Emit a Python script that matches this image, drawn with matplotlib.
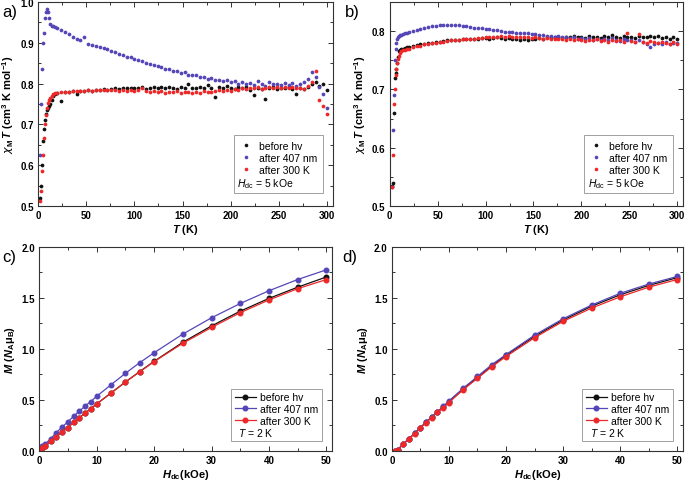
import matplotlib
matplotlib.use("Agg")
import matplotlib.pyplot as plt
from matplotlib.lines import Line2D
from matplotlib.ticker import MultipleLocator, FormatStrFormatter

plt.rcParams["font.family"] = ["Liberation Sans", "DejaVu Sans"]
plt.rcParams["mathtext.fontset"] = "custom"
plt.rcParams["mathtext.rm"] = "Liberation Sans"
plt.rcParams["mathtext.it"] = "Liberation Sans:italic"
plt.rcParams["mathtext.bf"] = "Liberation Sans:bold"
plt.rcParams["mathtext.bfit"] = "Liberation Sans:bold:italic"
plt.rcParams["mathtext.sf"] = "DejaVu Sans:italic"

LABELS = ["before hv", "after 407 nm", "after 300 K"]
COLORS = ["#111111", "#5546b8", "#ee2828"]

# temperature grid (K) used for the chi*T scans
T_K = [2, 3, 4, 5, 6, 7, 8, 9, 10, 11, 12, 14, 16, 18,
       20, 24, 28, 32, 36, 40, 44, 48, 52, 56, 60, 64, 68, 72, 76, 80,
       84, 88, 92, 96, 100, 104, 108, 112, 116, 120, 124, 128, 132, 136,
       140, 144, 148, 152, 156, 160, 164, 168, 172, 176, 180, 184, 188,
       192, 196, 200, 204, 208, 212, 216, 220, 224, 228, 232, 236, 240,
       244, 248, 252, 256, 260, 264, 268, 272, 276, 280, 284, 288, 292,
       296, 300]

# panel a
CHIT_A_BEFORE = [0.52, 0.55, 0.60, 0.66, 0.69, 0.71, 0.725, 0.735, 0.74, 0.745, 0.75, 0.76, 0.77, 0.775,
                 0.778, 0.757, 0.779, 0.780, 0.781, 0.775, 0.782, 0.783, 0.784, 0.783, 0.785, 0.784,
                 0.786, 0.785, 0.787, 0.788, 0.786, 0.789, 0.788, 0.790, 0.788, 0.790, 0.792, 0.787,
                 0.790, 0.791, 0.789, 0.791, 0.788, 0.792, 0.790, 0.787, 0.791, 0.789, 0.798, 0.790,
                 0.788, 0.792, 0.790, 0.797, 0.789, 0.768, 0.791, 0.788, 0.793, 0.789, 0.786, 0.791,
                 0.788, 0.792, 0.785, 0.773, 0.790, 0.787, 0.762, 0.789, 0.792, 0.786, 0.790, 0.788,
                 0.791, 0.787, 0.775, 0.790, 0.786, 0.792, 0.798, 0.805, 0.795, 0.800, 0.785]
CHIT_A_407 = [0.625, 0.75, 0.835, 0.90, 0.925, 0.96, 0.975, 0.983, 0.975, 0.96, 0.945, 0.942, 0.941, 0.938,
              0.935, 0.930, 0.926, 0.921, 0.915, 0.910, 0.906, 0.915, 0.896, 0.895, 0.892, 0.890,
              0.886, 0.884, 0.880, 0.878, 0.872, 0.870, 0.866, 0.865, 0.860, 0.858, 0.855, 0.850,
              0.848, 0.846, 0.843, 0.840, 0.836, 0.835, 0.832, 0.830, 0.826, 0.829, 0.822, 0.820,
              0.821, 0.815, 0.817, 0.812, 0.814, 0.808, 0.810, 0.806, 0.808, 0.804, 0.806, 0.800,
              0.804, 0.798, 0.802, 0.797, 0.806, 0.799, 0.795, 0.803, 0.798, 0.800, 0.796, 0.802,
              0.797, 0.801, 0.795, 0.799, 0.803, 0.812, 0.828, 0.815, 0.792, 0.775, 0.740]
CHIT_A_300 = [0.513, 0.538, 0.587, 0.626, 0.667, 0.70, 0.722, 0.74, 0.752, 0.76, 0.765, 0.770, 0.774, 0.776,
              0.778, 0.779, 0.780, 0.780, 0.781, 0.782, 0.782, 0.783, 0.784, 0.783, 0.784, 0.785,
              0.784, 0.785, 0.784, 0.785, 0.783, 0.784, 0.782, 0.784, 0.783, 0.785, 0.790, 0.781,
              0.780, 0.782, 0.779, 0.781, 0.778, 0.780, 0.779, 0.781, 0.778, 0.780, 0.779, 0.777,
              0.780, 0.778, 0.781, 0.779, 0.780, 0.782, 0.784, 0.781, 0.785, 0.783, 0.787, 0.785,
              0.789, 0.786, 0.790, 0.788, 0.791, 0.787, 0.790, 0.792, 0.789, 0.791, 0.788, 0.792,
              0.789, 0.791, 0.788, 0.790, 0.787, 0.793, 0.805, 0.830, 0.760, 0.745, 0.725]

# panel b
CHIT_B_BEFORE = [0.535, 0.54, 0.66, 0.72, 0.728, 0.735, 0.745, 0.755, 0.765, 0.768, 0.769, 0.770, 0.771, 0.772,
                 0.773, 0.774, 0.776, 0.777, 0.778, 0.779, 0.780, 0.781, 0.782, 0.783, 0.784, 0.784,
                 0.785, 0.785, 0.786, 0.786, 0.787, 0.787, 0.787, 0.788, 0.788, 0.787, 0.788, 0.789,
                 0.788, 0.787, 0.788, 0.786, 0.787, 0.785, 0.786, 0.785, 0.787, 0.786, 0.788, 0.787,
                 0.789, 0.788, 0.790, 0.789, 0.788, 0.790, 0.789, 0.791, 0.789, 0.790, 0.788, 0.791,
                 0.789, 0.790, 0.788, 0.791, 0.789, 0.793, 0.790, 0.788, 0.791, 0.789, 0.790, 0.788,
                 0.791, 0.789, 0.790, 0.792, 0.789, 0.791, 0.788, 0.790, 0.787, 0.789, 0.786]
CHIT_B_407 = [0.533, 0.63, 0.69, 0.75, 0.77, 0.78, 0.787, 0.790, 0.792, 0.793, 0.794, 0.795, 0.796, 0.797,
              0.798, 0.800, 0.802, 0.804, 0.805, 0.807, 0.808, 0.809, 0.810, 0.810, 0.811, 0.811,
              0.810, 0.810, 0.809, 0.808, 0.807, 0.806, 0.806, 0.805, 0.804, 0.803, 0.802, 0.801,
              0.800, 0.799, 0.799, 0.798, 0.797, 0.797, 0.796, 0.796, 0.795, 0.795, 0.794, 0.793,
              0.792, 0.791, 0.790, 0.791, 0.789, 0.790, 0.788, 0.789, 0.787, 0.788, 0.786, 0.788,
              0.785, 0.787, 0.785, 0.786, 0.784, 0.788, 0.785, 0.783, 0.786, 0.784, 0.785, 0.782,
              0.784, 0.781, 0.778, 0.772, 0.778, 0.780, 0.777, 0.781, 0.778, 0.780, 0.779]
CHIT_B_300 = [0.533, 0.587, 0.675, 0.70, 0.725, 0.735, 0.745, 0.752, 0.758, 0.762, 0.765, 0.767, 0.768, 0.769,
              0.770, 0.772, 0.774, 0.775, 0.777, 0.778, 0.779, 0.780, 0.781, 0.782, 0.783, 0.784,
              0.785, 0.785, 0.786, 0.786, 0.787, 0.787, 0.788, 0.788, 0.789, 0.789, 0.790, 0.790,
              0.791, 0.790, 0.791, 0.790, 0.790, 0.789, 0.790, 0.789, 0.788, 0.789, 0.788, 0.787,
              0.788, 0.786, 0.787, 0.786, 0.787, 0.785, 0.786, 0.784, 0.786, 0.785, 0.783, 0.785,
              0.784, 0.786, 0.783, 0.785, 0.782, 0.784, 0.783, 0.785, 0.782, 0.796, 0.783, 0.781,
              0.795, 0.782, 0.780, 0.783, 0.781, 0.779, 0.782, 0.780, 0.778, 0.781, 0.777]

# panel c magnetisation
H_C = [0, 0.5, 1, 2, 3, 4, 5, 6, 7, 8, 9, 10, 12.5, 15, 17.5, 20, 25, 30, 35, 40, 45, 50]
M_C_BEFORE = [0.01, 0.03, 0.045, 0.095, 0.14, 0.185, 0.23, 0.28, 0.325, 0.37, 0.415, 0.46,
              0.568, 0.675, 0.778, 0.878, 1.065, 1.225, 1.37, 1.495, 1.605, 1.705]
M_C_407 = [0.02, 0.045, 0.065, 0.12, 0.18, 0.235, 0.285, 0.34, 0.39, 0.44, 0.485, 0.535,
           0.648, 0.76, 0.865, 0.962, 1.145, 1.305, 1.445, 1.57, 1.68, 1.775]
M_C_300 = [0.01, 0.03, 0.045, 0.095, 0.14, 0.185, 0.23, 0.28, 0.325, 0.37, 0.415, 0.46,
           0.565, 0.675, 0.775, 0.875, 1.055, 1.21, 1.355, 1.48, 1.59, 1.68]

# panel d magnetisation
H_D = [0.5, 1, 2, 3, 4, 5, 6, 7, 8, 9, 10, 12.5, 15, 17.5, 20, 25, 30, 35, 40, 45, 50]
M_D_BEFORE = [0.0, 0.011, 0.067, 0.121, 0.173, 0.228, 0.282, 0.332, 0.382, 0.432, 0.483,
              0.608, 0.722, 0.836, 0.936, 1.123, 1.283, 1.418, 1.53, 1.622, 1.698]
M_D_407 = [0.0, 0.012, 0.068, 0.122, 0.175, 0.23, 0.285, 0.335, 0.385, 0.437, 0.49,
           0.615, 0.73, 0.845, 0.945, 1.135, 1.295, 1.43, 1.545, 1.635, 1.71]
M_D_300 = [0.0, 0.01, 0.065, 0.12, 0.17, 0.225, 0.278, 0.328, 0.378, 0.425, 0.475,
           0.60, 0.712, 0.825, 0.925, 1.11, 1.27, 1.40, 1.51, 1.605, 1.68]

CHIT_YLABEL = (r"$\mathsf{\chi}_\mathbf{M}\,\mathbfit{T}$"
               + " (cm$^\\mathbf{3}$ K mol$^{\\mathbf{-1}}$)")
M_YLABEL = r"$\mathbfit{M}$ ($\mathbfit{N}_\mathbf{A}\mathbf{\mu}_\mathbf{B}$)"


def style_axes(ax, xmajor, ymajor):
    ax.xaxis.set_major_locator(MultipleLocator(xmajor))
    ax.xaxis.set_minor_locator(MultipleLocator(xmajor / 2))
    ax.yaxis.set_major_locator(MultipleLocator(ymajor))
    ax.yaxis.set_minor_locator(MultipleLocator(ymajor / 2))
    ax.tick_params(which="both", direction="in", top=True, right=True,
                   labelsize=7, width=0.7, color="#333333", pad=3)
    ax.tick_params(which="major", length=3.5)
    ax.tick_params(which="minor", length=2)
    for lab in ax.get_xticklabels() + ax.get_yticklabels():
        lab.set_fontweight("bold")
    for sp in ax.spines.values():
        sp.set_linewidth(0.8)
        sp.set_color("#333333")


def chit_panel(ax, series, ylim, ymajor):
    for vals, lab, col in zip(series, LABELS, COLORS):
        ax.plot(T_K, vals, ls="none", marker="o", ms=2.7, mec="none", color=col, label=lab)
    ax.set_xlim(0, 306)
    ax.set_ylim(*ylim)
    style_axes(ax, 50, ymajor)
    ax.set_xlabel(r"$\mathbfit{T}$ (K)", fontsize=8, fontweight="bold", labelpad=1)
    ax.set_ylabel(CHIT_YLABEL, fontsize=8, fontweight="bold", labelpad=3)
    handles = [Line2D([], [], ls="none", marker="o", ms=2.6, mec="none", color=c) for c in COLORS]
    handles.append(Line2D([], [], ls="none"))
    leg = ax.legend(handles, LABELS + [" "], loc="lower right", bbox_to_anchor=(0.965, 0.065),
                    fontsize=7.5, frameon=True, fancybox=False, edgecolor="#888888",
                    handlelength=1.2, handletextpad=0.6, borderpad=0.55, labelspacing=0.2,
                    borderaxespad=0)
    leg.get_frame().set_linewidth(0.7)
    ax.text(0.675, 0.095, r"$H_\mathrm{dc}$ = 5 kOe", transform=ax.transAxes,
            fontsize=7.5, zorder=10)


def m_panel(ax, h, series):
    for vals, lab, col in zip(series, LABELS, COLORS):
        ax.plot(h, vals, marker="o", ms=3.3, lw=0.9, color=col, label=lab)
    ax.set_xlim(0, 51)
    ax.set_ylim(0, 2.0)
    style_axes(ax, 10, 0.5)
    ax.yaxis.set_major_formatter(FormatStrFormatter("%.1f"))
    for lab in ax.get_yticklabels():
        lab.set_fontweight("bold")
    ax.set_xlabel(r"$\mathbfit{H}_\mathbf{dc}$(kOe)", fontsize=8, fontweight="bold", labelpad=1)
    ax.set_ylabel(M_YLABEL, fontsize=8, fontweight="bold", labelpad=3)
    handles = [Line2D([], [], marker="o", ms=3.3, lw=0.9, color=c) for c in COLORS]
    handles.append(Line2D([], [], ls="none"))
    leg = ax.legend(handles, LABELS + [" "], loc="lower right", bbox_to_anchor=(0.965, 0.05),
                    fontsize=7.5, frameon=True, fancybox=False, edgecolor="#888888",
                    handlelength=2.0, handletextpad=0.4, borderpad=0.35, labelspacing=0.15,
                    borderaxespad=0)
    leg.get_frame().set_linewidth(0.7)
    ax.text(0.68, 0.075, r"$T$ = 2 K", transform=ax.transAxes, fontsize=7.5, zorder=10)


fig = plt.figure(figsize=(6.85, 4.85), dpi=100)
ax_a = fig.add_axes([0.0555, 0.573, 0.4305, 0.421])
ax_b = fig.add_axes([0.569, 0.573, 0.428, 0.421])
ax_c = fig.add_axes([0.057, 0.068, 0.428, 0.421])
ax_d = fig.add_axes([0.572, 0.068, 0.425, 0.421])

chit_panel(ax_a, [CHIT_A_BEFORE, CHIT_A_407, CHIT_A_300], (0.5, 1.0), 0.1)
chit_panel(ax_b, [CHIT_B_BEFORE, CHIT_B_407, CHIT_B_300], (0.5, 0.85), 0.1)
m_panel(ax_c, H_C, [M_C_BEFORE, M_C_407, M_C_300])
m_panel(ax_d, H_D, [M_D_BEFORE, M_D_407, M_D_300])

for x, y, s in [(0.003, 0.975, "a)"), (0.503, 0.975, "b)"), (0.003, 0.47, "c)"), (0.5, 0.47, "d)")]:
    fig.text(x, y, s, fontsize=12, va="center", ha="left")

fig.savefig("out.png", dpi=100)
